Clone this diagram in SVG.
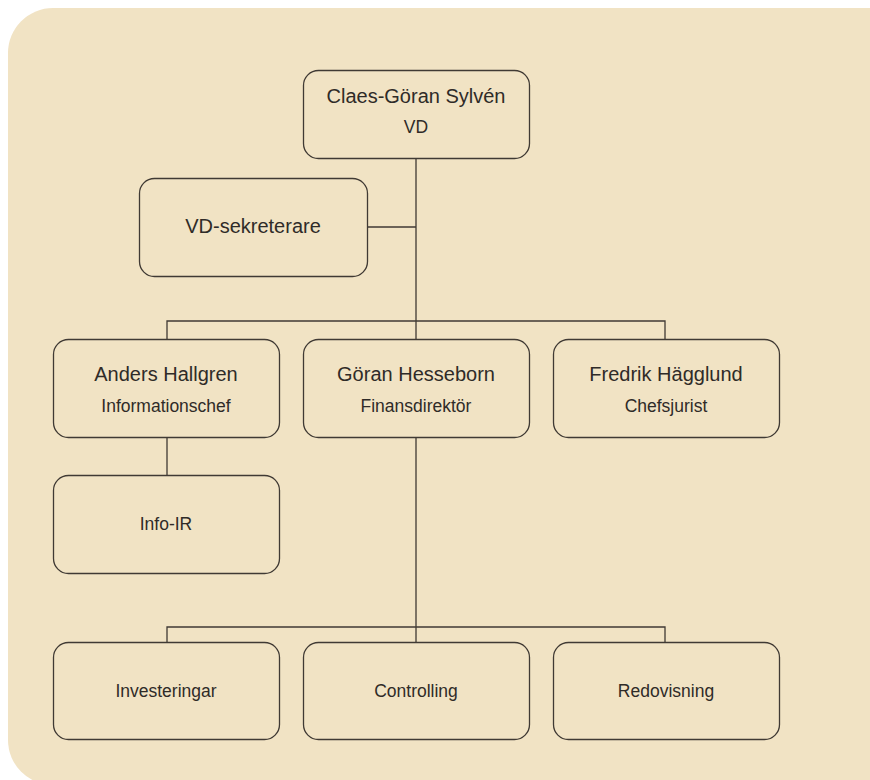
<svg xmlns="http://www.w3.org/2000/svg" width="870" height="780" viewBox="0 0 870 780">
<style>
.box{fill:#F1E3C4;stroke:#403a34;stroke-width:1.3}
.sh{fill:none;stroke:#8a7c68;stroke-width:1.6}
.name{font-family:"Liberation Sans",Arial,sans-serif;font-size:20px;fill:#2f2b28;text-anchor:middle}
.sub{font-family:"Liberation Sans",Arial,sans-serif;font-size:17.5px;fill:#2f2b28;text-anchor:middle}
.ln{fill:none;stroke:#403a34;stroke-width:1.3}
</style>
<rect width="870" height="780" fill="#ffffff"/>
<path d="M53,8 H870 V785 H53 A45,45 0 0 1 8,740 V53 A45,45 0 0 1 53,8 Z" fill="#F1E3C4"/>
<g id="connectors">
<path class="ln" d="M416,159 V321 M367,227 H416 M167,339 V321 H665 V339 M416,321 V339 M167,437 V475 M416,437 V627 M167,642 V627 H665 V642 M416,627 V642"/>
</g>
<g id="n-ceo">
<rect class="box" x="303.5" y="70.5" width="226" height="88" rx="15"/>
<text class="name" x="416" y="103">Claes-Göran Sylvén</text>
<text class="sub" x="416" y="133">VD</text>
</g>
<g id="n-sek">
<rect class="box" x="139.5" y="178.5" width="228" height="98" rx="15"/>
<text class="name" x="253" y="233">VD-sekreterare</text>
</g>
<g id="n-anders">
<rect class="box" x="53.5" y="339.5" width="226" height="98" rx="15"/>
<text class="name" x="166" y="381">Anders Hallgren</text>
<text class="sub" x="166" y="412">Informationschef</text>
</g>
<g id="n-goran">
<rect class="box" x="303.5" y="339.5" width="226" height="98" rx="15"/>
<text class="name" x="416" y="381">Göran Hesseborn</text>
<text class="sub" x="416" y="412">Finansdirektör</text>
</g>
<g id="n-fredrik">
<rect class="box" x="553.5" y="339.5" width="226" height="98" rx="15"/>
<text class="name" x="666" y="381">Fredrik Hägglund</text>
<text class="sub" x="666" y="412">Chefsjurist</text>
</g>
<g id="n-info">
<rect class="box" x="53.5" y="475.5" width="226" height="98" rx="15"/>
<text class="sub" x="166" y="530">Info-IR</text>
</g>
<g id="n-inv">
<rect class="box" x="53.5" y="642.5" width="226" height="97" rx="15"/>
<text class="sub" x="166" y="697">Investeringar</text>
</g>
<g id="n-ctrl">
<rect class="box" x="303.5" y="642.5" width="226" height="97" rx="15"/>
<text class="sub" x="416" y="697">Controlling</text>
</g>
<g id="n-redo">
<rect class="box" x="553.5" y="642.5" width="226" height="97" rx="15"/>
<text class="sub" x="666" y="697">Redovisning</text>
</g>
</svg>
